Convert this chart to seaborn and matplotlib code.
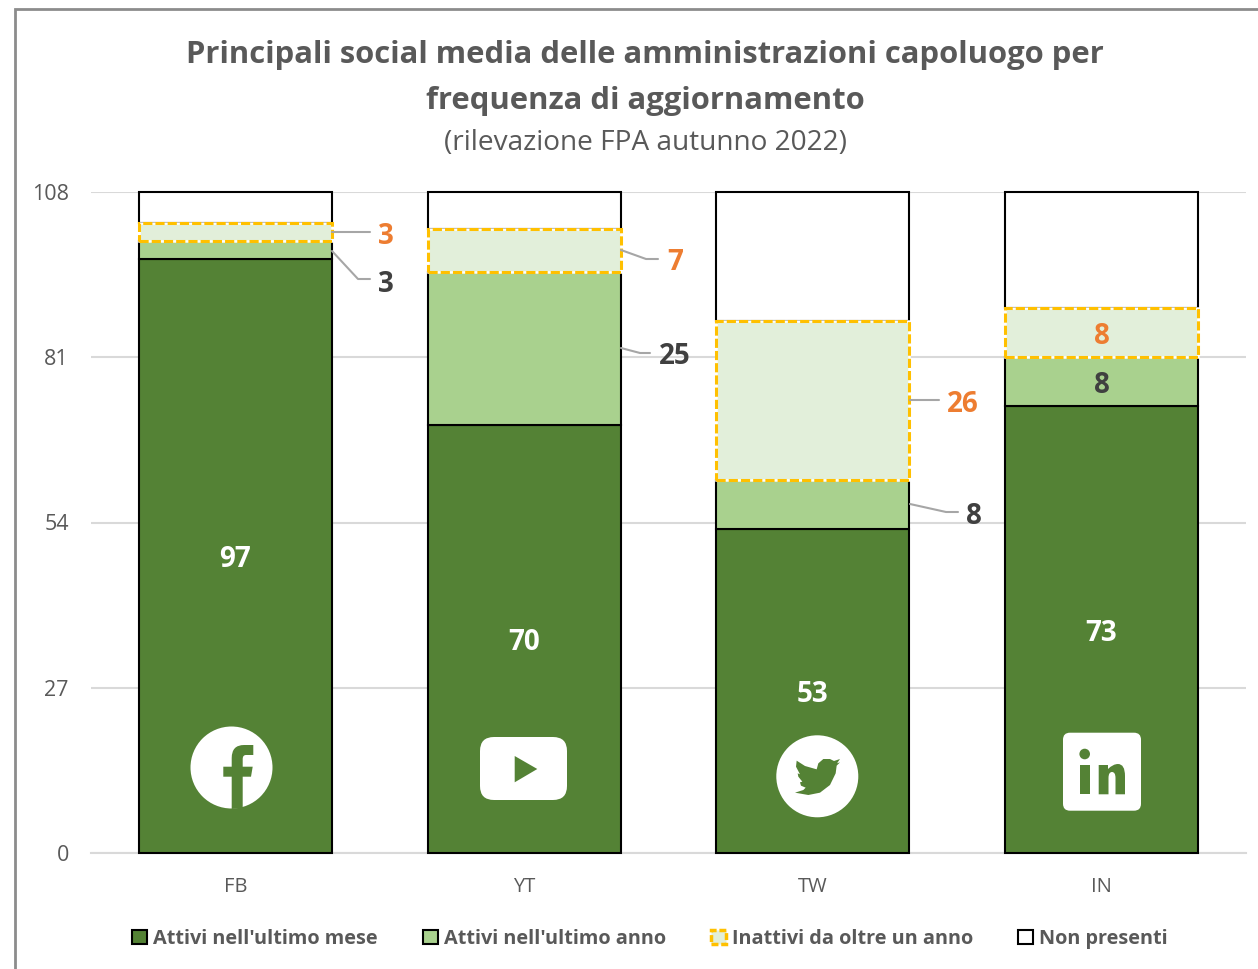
import numpy as np
import seaborn as sns
import matplotlib.pyplot as plt
from matplotlib.patches import Patch, Circle, FancyBboxPatch, Polygon, PathPatch
from matplotlib.path import Path

categories = ["FB", "YT", "TW", "IN"]
attivi_mese = [97, 70, 53, 73]
attivi_anno = [3, 25, 8, 8]
inattivi = [3, 7, 26, 8]
non_presenti = [5, 6, 21, 19]
y_ticks = [0, 27, 54, 81, 108]

GREEN = "#548235"
MID = "#a9d18e"
LIGHT = "#e2efda"
GOLD = "#ffc000"
ORANGE = "#ed7d31"
DARK = "#404040"
GREY = "#595959"

W, H = 1258, 969
sns.set_theme(style="white")
plt.rcParams["font.family"] = ["Open Sans", "DejaVu Sans"]

fig = plt.figure(figsize=(W / 100, H / 100), dpi=100)
ax = fig.add_axes([91 / W, (H - 853) / H, 1155 / W, 661 / H])

mese = np.array(attivi_mese)
anno = np.array(attivi_anno)
ina = np.array(inattivi)
non = np.array(non_presenti)

bar_kws = dict(width=0.668, saturation=1, edgecolor="black", linewidth=1.5, zorder=3)
sns.barplot(x=categories, y=mese, color=GREEN, ax=ax, **bar_kws)
sns.barplot(x=categories, y=anno, bottom=mese, color=MID, ax=ax, **bar_kws)
sns.barplot(x=categories, y=non, bottom=mese + anno + ina, color="white", ax=ax, **bar_kws)

# inactive block: white line below, dashed gold on top
white_kws = dict(bar_kws, edgecolor="white", linewidth=1.8, zorder=4)
sns.barplot(x=categories, y=ina, bottom=mese + anno, color=LIGHT, ax=ax, **white_kws)
gold_kws = dict(bar_kws, edgecolor=GOLD, linewidth=2.2, zorder=5)
sns.barplot(x=categories, y=ina, bottom=mese + anno, color=LIGHT, ax=ax, **gold_kws)
for p in ax.containers[-1]:
    p.set_facecolor("none")
    p.set_linestyle((0, (3.0, 1.0)))
for p in ax.patches:
    p.set_clip_on(False)

ax.set_xlim(-0.5, 3.5)
ax.set_ylim(0, 108)
ax.set_yticks(y_ticks)
ax.grid(axis="y", color="#d9d9d9", linewidth=1.5, zorder=0)
ax.set_axisbelow(True)
sns.despine(ax=ax, left=True, bottom=False, top=True, right=True)
ax.spines["bottom"].set_color("#d9d9d9")
ax.spines["bottom"].set_linewidth(1.5)
ax.tick_params(axis="y", length=0, pad=16, labelsize=15.5, labelcolor=GREY)
ax.tick_params(axis="x", length=0, pad=17, labelsize=14.5, labelcolor=GREY)

# labels centred in their segments
lab = dict(ha="center", va="center", fontweight="bold", fontsize=20, zorder=6,
           xytext=(0, -2.5), textcoords="offset points")
for i, v in enumerate(attivi_mese):
    ax.annotate(str(v), (i, v / 2), color="white", **lab)
ax.annotate(str(anno[3]), (3, mese[3] + anno[3] / 2), color=DARK, **lab)
ax.annotate(str(ina[3]), (3, mese[3] + anno[3] + ina[3] / 2), color=ORANGE, **lab)

# overlay in pixel coordinates for frame, callouts, icons and title
ov = fig.add_axes([0, 0, 1, 1], zorder=10)
ov.set_xlim(0, W)
ov.set_ylim(H, 0)
ov.axis("off")
ov.patch.set_alpha(0)

ov.plot([15, 15, W], [H, 9, 9], color="#8c8c8c", lw=2, solid_joinstyle="miter")

ov.text(645, 55, "Principali social media delle amministrazioni capoluogo per",
        ha="center", va="center", fontsize=22.3, fontweight="bold", color=GREY)
ov.text(645, 101, "frequenza di aggiornamento",
        ha="center", va="center", fontsize=22.3, fontweight="bold", color=GREY)
ov.text(645, 143, "(rilevazione FPA autunno 2022)",
        ha="center", va="center", fontsize=20.2, color=GREY)

callouts = [
    (inattivi[0], ORANGE, 386, 236, [332, 370], [232, 232]),
    (attivi_anno[0], DARK, 386, 284, [332, 358, 370], [251, 279, 279]),
    (inattivi[1], ORANGE, 675, 262, [621, 646, 658], [250, 259, 259]),
    (attivi_anno[1], DARK, 675, 357, [621, 640, 650], [348, 353, 353]),
    (inattivi[2], ORANGE, 963, 404, [910, 939], [400, 400]),
    (attivi_anno[2], DARK, 974, 517, [910, 946, 958], [504, 512, 512]),
]
for val, col, tx, ty, xs, ys in callouts:
    ov.plot(xs, ys, color="#a6a6a6", lw=1.5)
    ov.text(tx, ty, str(val), color=col, ha="center", va="center",
            fontsize=20, fontweight="bold")

# --- icons ---
ov.add_patch(Circle((231.5, 767.5), 41, fc="white", ec="none"))
f_verts = [(231.7, 809), (231.7, 776.7), (223.3, 776.7), (223.3, 766.7), (231.7, 766.7),
           (231.7, 758), (231.7, 745), (244, 745), (253.3, 745), (253.3, 755),
           (246, 755), (242.7, 755), (242.7, 759), (242.7, 766.7), (252.7, 766.7),
           (251, 776.7), (242.7, 776.7), (242.7, 808), (231.7, 809)]
f_codes = [Path.MOVETO, Path.LINETO, Path.LINETO, Path.LINETO, Path.LINETO,
           Path.LINETO, Path.CURVE3, Path.CURVE3, Path.LINETO, Path.LINETO,
           Path.LINETO, Path.CURVE3, Path.CURVE3, Path.LINETO, Path.LINETO,
           Path.LINETO, Path.LINETO, Path.LINETO, Path.CLOSEPOLY]
ov.add_patch(PathPatch(Path(f_verts, f_codes), fc=GREEN, ec="none"))

ov.add_patch(FancyBboxPatch((491, 748), 65, 41, boxstyle="round,pad=11,rounding_size=14",
                            fc="white", ec="none"))
ov.add_patch(Polygon([(514.7, 756), (537.3, 769), (514.7, 782.3)], fc=GREEN, ec="none"))

ov.add_patch(Circle((817.3, 776.3), 41, fc="white", ec="none"))
bird = [(35, 47), (60, 63), (95, 73), (100, 55), (115, 42), (135, 42), (147, 48), (165, 42),
        (156, 55), (165, 52), (155, 62), (152, 85), (135, 120), (105, 143), (70, 150),
        (30, 143), (55, 135), (62, 128), (48, 122), (45, 112), (52, 110), (40, 95),
        (38, 85), (45, 88), (33, 65)]
ov.add_patch(Polygon([(785 + x / 3, 745 + y / 3) for x, y in bird], fc=GREEN, ec="none"))

ov.add_patch(FancyBboxPatch((1070, 739.7), 64, 64, boxstyle="round,pad=7,rounding_size=7",
                            fc="white", ec="none"))
ov.add_patch(Circle((1084.7, 754), 5.3, fc=GREEN, ec="none"))
ov.add_patch(Polygon([(1080, 765), (1090, 765), (1090, 794.3), (1080, 794.3)], fc=GREEN, ec="none"))
n_verts = [(1098.7, 794.3), (1098.7, 765), (1108, 765), (1108, 769), (1113, 764), (1118, 764),
           (1125, 764), (1125, 776), (1125, 794.3), (1115.5, 794.3), (1115.5, 778),
           (1115.5, 772), (1112, 772), (1108.5, 772), (1108.5, 778), (1108.5, 794.3), (1098.7, 794.3)]
n_codes = [Path.MOVETO, Path.LINETO, Path.LINETO, Path.LINETO, Path.CURVE3, Path.CURVE3,
           Path.CURVE3, Path.CURVE3, Path.LINETO, Path.LINETO, Path.LINETO,
           Path.CURVE3, Path.CURVE3, Path.CURVE3, Path.CURVE3, Path.LINETO, Path.CLOSEPOLY]
ov.add_patch(PathPatch(Path(n_verts, n_codes), fc=GREEN, ec="none"))

# legend
handles = [
    Patch(fc=GREEN, ec="black", lw=1.5, label="Attivi nell'ultimo mese"),
    Patch(fc=MID, ec="black", lw=1.5, label="Attivi nell'ultimo anno"),
    Patch(fc=LIGHT, ec=GOLD, lw=2.5, ls=(0, (2, 0.8)), label="Inattivi da oltre un anno"),
    Patch(fc="white", ec="black", lw=1.5, label="Non presenti"),
]
fig.legend(handles=handles, ncol=4, frameon=False, loc="center",
           bbox_to_anchor=(650 / W, (H - 939) / H), handlelength=0.75, handleheight=0.75,
           handletextpad=0.3, columnspacing=2.27, labelcolor=GREY,
           prop={"weight": "bold", "size": 14.3})

fig.savefig("out.png", dpi=100)
